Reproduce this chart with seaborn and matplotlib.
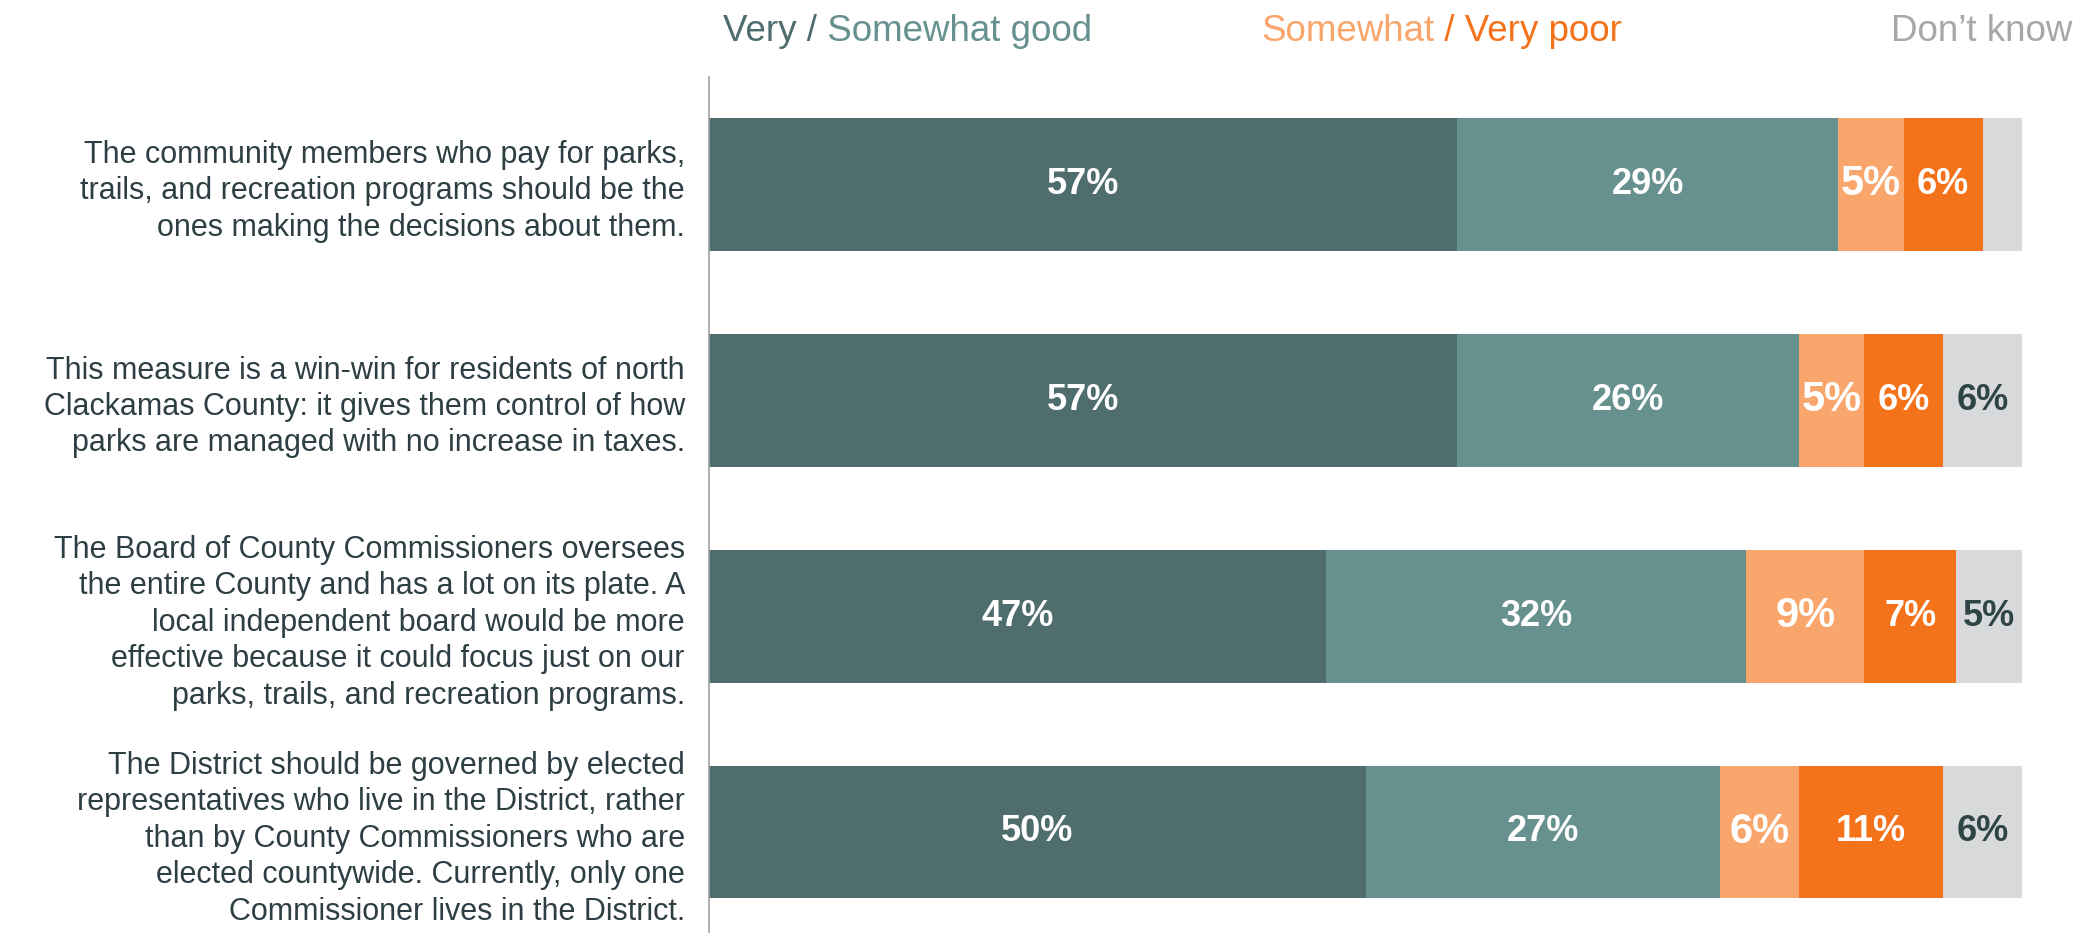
import matplotlib
matplotlib.use("Agg")
import matplotlib.pyplot as plt
import seaborn as sns
import numpy as np
import pandas as pd

# ---- data ----
statements = [
    "The community members who pay for parks,\ntrails, and recreation programs should be the\nones making the decisions about them.",
    "This measure is a win-win for residents of north\nClackamas County: it gives them control of how\nparks are managed with no increase in taxes.",
    "The Board of County Commissioners oversees\nthe entire County and has a lot on its plate. A\nlocal independent board would be more\neffective because it could focus just on our\nparks, trails, and recreation programs.",
    "The District should be governed by elected\nrepresentatives who live in the District, rather\nthan by County Commissioners who are\nelected countywide. Currently, only one\nCommissioner lives in the District.",
]
very_good = [57, 57, 47, 50]
somewhat_good = [29, 26, 32, 27]
somewhat_poor = [5, 5, 9, 6]
very_poor = [6, 6, 7, 11]
dont_know = [3, 6, 5, 6]

series_names = ["Very good", "Somewhat good", "Somewhat poor", "Very poor", "Don't know"]
series_values = [very_good, somewhat_good, somewhat_poor, very_poor, dont_know]
series_colors = ["#4F6D6D", "#67918F", "#F9A66C", "#F47219", "#D8D9DB"]
label_colors = ["white", "white", "white", "white", "#2E4447"]
label_sizes = [26, 26, 30, 26, 26]

sns.set_theme(style="white")
plt.rcParams["font.family"] = ["Liberation Sans", "DejaVu Sans"]

fig = plt.figure(figsize=(20.85, 9.33), dpi=100)
ax = fig.add_axes([709 / 2085, 0.0, (2022 - 709) / 2085, (933 - 77) / 933])

vals = np.array(series_values, dtype=float)
cum = np.cumsum(vals, axis=0)

# draw cumulative bars from the longest to the shortest
for k in range(len(series_names) - 1, -1, -1):
    df = pd.DataFrame({"statement": statements, "value": cum[k]})
    sns.barplot(data=df, x="value", y="statement", orient="h",
                color=series_colors[k], saturation=1, width=0.616,
                linewidth=0, ax=ax, errorbar=None)

# segment labels
for k in range(len(series_names)):
    for i in range(len(statements)):
        v = vals[k, i]
        if v < 4:
            continue
        center = cum[k, i] - v / 2
        ax.text(center, i, f"{int(v)}%", ha="center", va="center",
                fontsize=label_sizes[k], fontweight="bold", color=label_colors[k])

ax.set_xlim(0, 100)
ax.set_ylim(3.468, -0.498)
ax.set_xlabel("")
ax.set_ylabel("")
ax.set_xticks([])
for s in ["top", "right", "bottom"]:
    ax.spines[s].set_visible(False)
ax.spines["left"].set_color("#A0A0A0")
ax.spines["left"].set_linewidth(1.2)
ax.tick_params(axis="y", length=0, pad=17.3, labelsize=22, labelcolor="#2E3F43")
for lbl in ax.get_yticklabels():
    lbl.set_linespacing(1.28)

# legend header made of coloured text pieces
base_y = 1 - 41 / 933
fs = 26.5

def chain(pieces, x0):
    prev = None
    for txt, col in pieces:
        if prev is None:
            prev = fig.text(x0, base_y, txt, color=col, fontsize=fs,
                            ha="left", va="baseline")
        else:
            prev = ax.annotate(txt, xy=(1, 0), xycoords=prev, ha="left",
                               va="bottom", color=col, fontsize=fs,
                               annotation_clip=False)
    return prev

chain([("Very /", "#4F6D6D"), (" Somewhat good", "#67918F")], 723 / 2085)
chain([("Somewhat", "#F9A66C"), (" / Very poor", "#F47219")], 1261 / 2085)
fig.text(2072 / 2085, base_y, "Don\u2019t know", color="#A5A7A9", fontsize=fs,
         ha="right", va="baseline")

fig.savefig("out.png", dpi=100)
